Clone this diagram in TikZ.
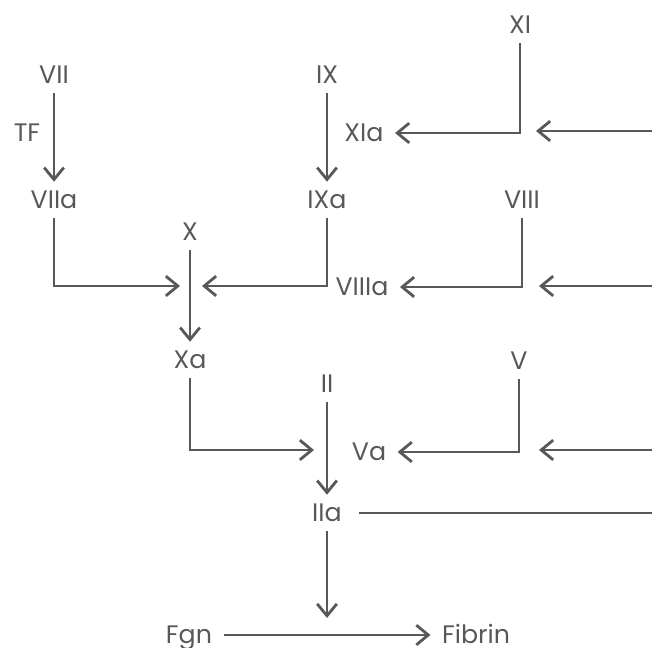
\documentclass[tikz,border=0pt]{standalone}
\usepackage{fontspec}
\setmainfont{Poppins}
\usepackage{xcolor}
\usepackage{tikz}
\usetikzlibrary{arrows.meta,calc,positioning}
\definecolor{ink}{HTML}{585858}

\begin{document}
\begin{tikzpicture}[x=0.025cm,y=-0.025cm,font=\fontsize{18}{20}\selectfont,
  >={Straight Barb[length=8.5pt,width=14pt,line width=2pt]},
  fac/.style={text=ink,text height=12.6pt,text depth=0pt,inner xsep=8pt,inner ysep=6.5pt},
  link/.style={draw=ink,line width=2pt}]
  \useasboundingbox (0,0) rectangle (652,648);
  % factors
  \node[fac] (XI) at (520,25) {XI};
  \node[fac] (VII) at (54,75) {VII};
  \node[fac] (IX) at (327,75) {IX};
  \node[fac] (TF) at (27,133) {TF};
  \node[fac] (XIa) at (364,133) {XIa};
  \node[fac] (VIIa) at (54,200) {VIIa};
  \node[fac] (IXa) at (327,200) {IXa};
  \node[fac] (VIII) at (522,200) {VIII};
  \node[fac] (X) at (190,232) {X};
  \node[fac] (VIIIa) at (362,287) {VIIIa};
  \node[fac] (Xa) at (190,360) {Xa};
  \node[fac] (V) at (519,361) {V};
  \node[fac] (II) at (327,384) {II};
  \node[fac] (Va) at (369,452) {Va};
  \node[fac] (IIa) at (327,513) {IIa};
  \node[fac] (Fgn) at (189,635) {Fgn};
  \node[fac] (Fibrin) at (476,635) {Fibrin};
  % loose ends
  \coordinate (xl) at (180,286);
  \coordinate (xr) at (202,286);
  \coordinate (iil) at (314,450);
  \coordinate (fz) at (327,618);
  \coordinate (inA) at (652,131);
  \coordinate (tipA) at (536,131);
  \coordinate (inB) at (652,286);
  \coordinate (tipB) at (539,286);
  \coordinate (inC) at (652,450);
  \coordinate (tipC) at (539,450);
  \coordinate (outD) at (652,513);
  % cascade
  \draw[link,->] (VII) -- (VIIa);
  \draw[link,->] (IX) -- (IXa);
  \draw[link,->] (XI) |- (XIa);
  \draw[link,->] (VIIa) |- (xl);
  \draw[link,->] (IXa) |- (xr);
  \draw[link,->] (X) -- (Xa);
  \draw[link,->] (VIII) |- (VIIIa);
  \draw[link,->] (Xa) |- (iil);
  \draw[link,->] (II) -- (IIa);
  \draw[link,->] (V) |- (Va);
  \draw[link,->] (IIa) -- (fz);
  \draw[link,->] (Fgn) -- (Fibrin);
  % feedback from the right
  \draw[link,->] (inA) -- (tipA);
  \draw[link,->] (inB) -- (tipB);
  \draw[link,->] (inC) -- (tipC);
  \draw[link,shorten <=4pt] (IIa) -- (outD);
\end{tikzpicture}
\end{document}
